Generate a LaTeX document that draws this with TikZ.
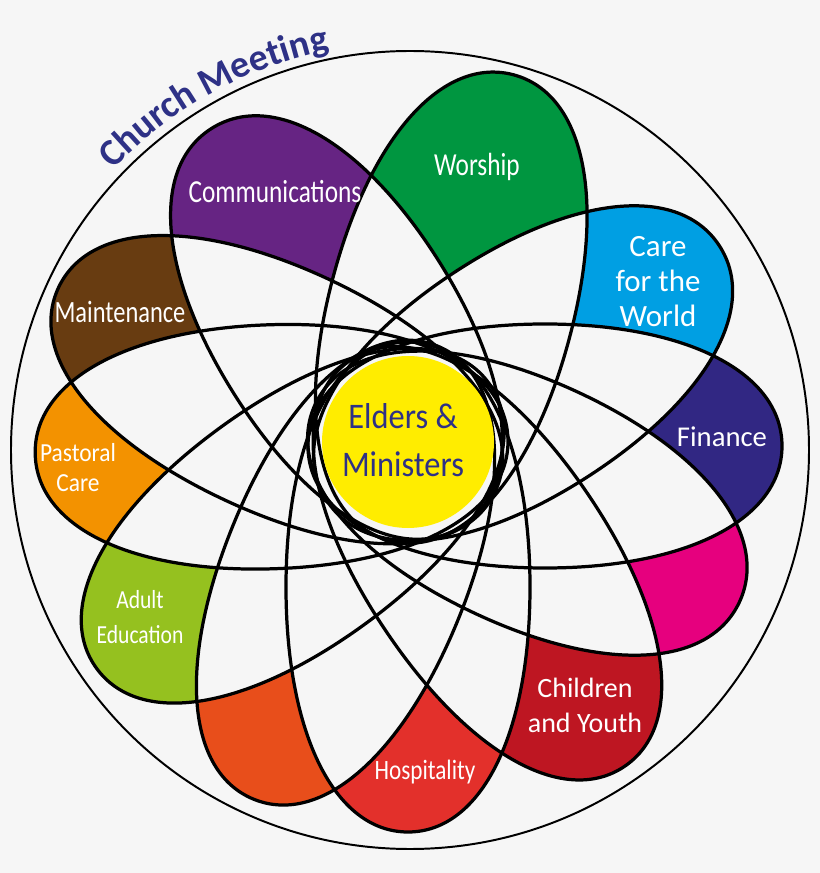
\documentclass[tikz,border=0pt]{standalone}
\usepackage{fontspec}
\setmainfont{Carlito}
\newfontfamily\narrowfont[FakeStretch=0.79]{Carlito}
\newfontfamily\semifont[FakeStretch=0.83]{Carlito}
\newfontfamily\nearfont[FakeStretch=0.9]{Carlito}
\usetikzlibrary{decorations.text}
\definecolor{cbg}{HTML}{F6F6F6}
\definecolor{cworship}{HTML}{009640}
\definecolor{ccare}{HTML}{009FE3}
\definecolor{cfinance}{HTML}{312783}
\definecolor{cpink}{HTML}{E6007E}
\definecolor{cchild}{HTML}{BE1622}
\definecolor{chosp}{HTML}{E3302B}
\definecolor{corange}{HTML}{E84E1B}
\definecolor{cadult}{HTML}{95C11F}
\definecolor{cpastoral}{HTML}{F39200}
\definecolor{cmaint}{HTML}{683C11}
\definecolor{ccomm}{HTML}{662483}
\definecolor{celders}{HTML}{FFED00}
\definecolor{cmeet}{HTML}{2E3186}
\newcommand{\fs}[2]{\fontsize{#1}{#2}\selectfont}
% angle / half length / side offset / colour
\newcommand{\petallist}{75/241/-7/cworship, 33/234/-5/ccare, 0/237/-4/cfinance,
  -25/234/-5/cpink, -56/245/-2/cchild, -90/245/0/chosp, -112/244.5/-9/corange,
  -144/242.5/0/cadult, -178/236.5/0/cpastoral, 155/241/8/cmaint, 122/235/0/ccomm}
\tikzset{
  petalshape/.style={insert path={(#1,0) .. controls (#1,73.2) and ({0.6*#1},122) .. (0,122)
    .. controls ({-0.6*#1},122) and (-#1,73.2) .. (-#1,0)
    .. controls (-#1,-73.2) and ({-0.6*#1},-122) .. (0,-122)
    .. controls ({0.6*#1},-122) and (#1,-73.2) .. (#1,0) -- cycle}},
  petal/.style={draw=black, line width=2.3pt},
  rim/.style={draw=black, line width=1.4pt},
  lbl/.style={text=white, align=center, inner sep=0pt},
  hub/.style={text=cmeet, align=center, inner sep=0pt},
}

\begin{document}
\begin{tikzpicture}[x=0.025cm,y=0.025cm]
\useasboundingbox (-408,-431) rectangle (412,442);
\fill[cbg] (-408,-431) rectangle (412,442);
\coordinate (mid) at (2,-8);
% coloured petals
\foreach \ang/\len/\off/\col in \petallist
  \fill[\col, rotate=\ang, shift={({\len-100},\off)}] [petalshape=\len];
% overlaps go back to the background
\foreach [count=\i] \ai/\li/\oi/\ci in \petallist {
  \foreach [count=\j] \aj/\lj/\oj/\cj in \petallist {
    \ifnum\j>\i
      \begin{scope}
        \clip[rotate=\ai, shift={({\li-100},\oi)}] [petalshape=\li];
        \fill[cbg, rotate=\aj, shift={({\lj-100},\oj)}] [petalshape=\lj];
      \end{scope}
    \fi
  }
}
\foreach \ang/\len/\off/\col in \petallist
  \draw[petal, rotate=\ang, shift={({\len-100},\off)}] [petalshape=\len];
\draw[rim] (mid) circle[radius=399];
\fill[celders] (0,0) circle[radius=86];
% labels
\node[hub, font=\nearfont\fs{25.6}{34}] (elders) at (-5,2) {Elders \&\\Ministers};
\node[lbl, font=\narrowfont\fs{22.8}{27}] (worship) at (69,275) {Worship};
\node[lbl, font=\narrowfont\fs{22.8}{27}] (comm) at (-133,250) {Communications};
\node[lbl, font=\fs{22}{24.9}] (care) at (250,160) {Care\\for the\\World};
\node[lbl, font=\fs{20.4}{24}] (finance) at (314,5) {Finance};
\node[lbl, font=\fs{19.9}{24.9}] (child) at (177,-263) {Children\\and Youth};
\node[lbl, font=\semifont\fs{19.9}{24}] (hosp) at (17,-330) {Hospitality};
\node[lbl, font=\semifont\fs{18.5}{24.9}] (adult) at (-268,-175) {Adult\\Education};
\node[lbl, font=\nearfont\fs{18.5}{21.3}] (pastoral) at (-330,-26) {Pastoral\\Care};
\node[lbl, font=\narrowfont\fs{22}{26}] (maint) at (-288,130) {Maintenance};
\path[decorate, decoration={text along path, text align=center, text color=cmeet,
  text={|\bfseries\fs{27}{30}|Church Meeting}}]
  (mid) ++(139:408) arc[start angle=139, end angle=99, radius=408];
\end{tikzpicture}
\end{document}
